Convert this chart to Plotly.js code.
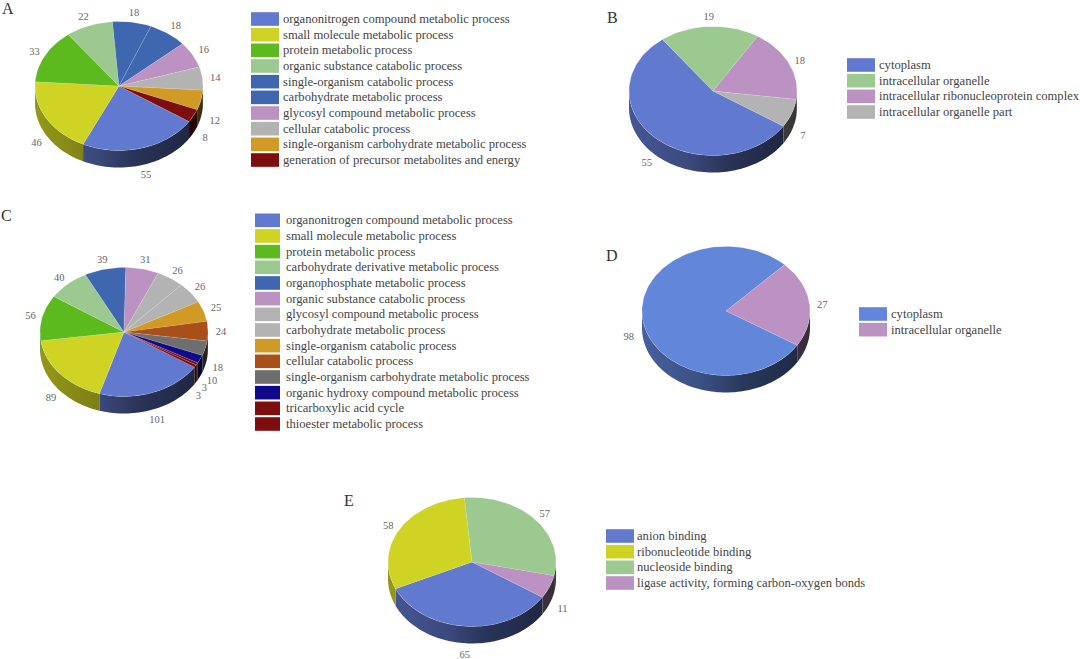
<!DOCTYPE html>
<html>
<head>
<meta charset="utf-8">
<script src="https://cdn.plot.ly/plotly-3.0.1.min.js"></script>
<style>html,body{margin:0;padding:0;background:#fff}#chart{width:1080px;height:659px}</style>
</head>
<body>
<div id="chart"></div>
<script>
// ---------- data ----------
const categoriesA = ["organonitrogen compound metabolic process","small molecule metabolic process","protein metabolic process","organic substance catabolic process","single-organism catabolic process","carbohydrate metabolic process","glycosyl compound metabolic process","cellular catabolic process","single-organism carbohydrate metabolic process","generation of precursor metabolites and energy"];
const valuesA = [55,46,33,22,18,18,16,14,12,8];
const categoriesB = ["cytoplasm","intracellular organelle","intracellular ribonucleoprotein complex","intracellular organelle part"];
const valuesB = [55,19,18,7];
const categoriesC = ["organonitrogen compound metabolic process","small molecule metabolic process","protein metabolic process","carbohydrate derivative metabolic process","organophosphate metabolic process","organic substance catabolic process","glycosyl compound metabolic process","carbohydrate metabolic process","single-organism catabolic process","cellular catabolic process","single-organism carbohydrate metabolic process","organic hydroxy compound metabolic process","tricarboxylic acid cycle","thioester metabolic process"];
const valuesC = [101,89,56,40,39,31,26,26,25,24,18,10,3,3];
const categoriesD = ["cytoplasm","intracellular organelle"];
const valuesD = [98,27];
const categoriesE = ["anion binding","ribonucleotide binding","nucleoside binding","ligase activity, forming carbon-oxygen bonds"];
const valuesE = [65,58,57,11];

// ---------- styles ----------
const BLUE="#6279d0", SKY="#6286da", YEL="#cfd323", GRN="#5cb91e", LGR="#9cc98f", DBL="#3f67b0", PUR="#bc92c2", GRY="#b3b3b3", ORG="#d09a24", RED="#7e0d0d", BRN="#a94f19", DGY="#6e6e6e", NAV="#0f0a8c";
const coloursA=[BLUE,YEL,GRN,LGR,DBL,DBL,PUR,GRY,ORG,RED];
const coloursB=[BLUE,LGR,PUR,GRY];
const coloursC=[BLUE,YEL,GRN,LGR,DBL,PUR,GRY,GRY,ORG,BRN,DGY,NAV,RED,RED];
const coloursD=[SKY,PUR];
const coloursE=[BLUE,YEL,LGR,PUR];

// ---------- layout of the five panels (pixels) ----------
const W=1080,H=659,SERIF='"Liberation Serif","Times New Roman",serif';
const panels=[
 {tag:"A",cats:categoriesA,vals:valuesA,cols:coloursA,cx:119,cy:86,box:[0,240,0,190],start:33.5,tagAt:[8,9],sw:[251,279],textX:283,rowY:19,
  nudge:[[1,0],[1,10],[1,2],[-1,2],[0,2],[0,2],[0,1],[0,1],[1,15],[0,10]]},
 {tag:"B",cats:categoriesB,vals:valuesB,cols:coloursB,cx:713,cy:91,box:[600,835,0,190],start:33,tagAt:[612,18],sw:[847,875],textX:879,rowY:65,
  nudge:[[0,5],[0,2],[-1,2],[-1,13]]},
 {tag:"C",cats:categoriesC,vals:valuesC,cols:coloursC,cx:124,cy:332,box:[0,245,205,440],start:33,tagAt:[6,215],sw:[255,280],textX:286,rowY:220.3,
  nudge:[[0,1],[1,7],[1,1],[0,3],[0,2],[0,2],[0,2],[-1,1],[0,1],[0,1],[0,12.5],[0,10],[-4,11],[-8,15]]},
 {tag:"D",cats:categoriesD,vals:valuesD,cols:coloursD,cx:726,cy:311,box:[600,845,235,405],start:32,tagAt:[612,255],sw:[859,887],textX:891,rowY:314,
  nudge:[[-1,15],[0,3]]},
 {tag:"E",cats:categoriesE,vals:valuesE,cols:coloursE,cx:472,cy:562,box:[365,590,488,659],start:33,tagAt:[349,500],sw:[606,634],textX:637,rowY:536,
  nudge:[[0,1],[0,2],[0,2],[1,12]]}
];
const RX=84,RY=64.5,DEPTH=17,PITCH=15.67;

function shade(hex,f){
  const n=parseInt(hex.slice(1),16);
  return `rgb(${Math.round((n>>16&255)*f)},${Math.round((n>>8&255)*f)},${Math.round((n&255)*f)})`;
}
function arc(a0,a1){
  const steps=Math.max(2,Math.ceil((a1-a0)/2)),p=[];
  for(let i=0;i<=steps;i++){const t=(a0+(a1-a0)*i/steps)*Math.PI/180;p.push([Math.cos(t),-Math.sin(t)]);}
  return p;
}

const data=[],shapes=[],annotations=[],layout={};
panels.forEach((p,k)=>{
  const s=k?String(k+1):"";
  const xa="x"+s,ya="y"+s,[x0,x1,y0,y1]=p.box;
  layout["xaxis"+s]={visible:false,fixedrange:true,anchor:ya,domain:[x0/W,x1/W],range:[(x0-p.cx)/RX,(x1-p.cx)/RX]};
  layout["yaxis"+s]={visible:false,fixedrange:true,anchor:xa,domain:[1-y1/H,1-y0/H],range:[(p.cy-y1)/RY,(p.cy-y0)/RY]};
  const total=p.vals.reduce((a,b)=>a+b,0),d=DEPTH/RY;
  let a=p.start;
  const spans=p.vals.map(v=>{const sp=[a,a+v/total*360];a=sp[1];return sp;});
  // sides
  spans.forEach(([a0,a1],i)=>{
    [[0,180],[360,540]].forEach(([lo,hi])=>{
      const b0=Math.max(a0,lo),b1=Math.min(a1,hi);
      if(b1<=b0)return;
      const top=arc(b0,b1),xs=top.map(q=>q[0]),ys=top.map(q=>q[1]);
      const bx=xs.slice().reverse(),by=ys.slice().reverse().map(y=>y-d);
      const c=p.cols[i];
      data.push({type:"scatter",mode:"none",xaxis:xa,yaxis:ya,hoverinfo:"skip",showlegend:false,
        x:xs.concat(bx,[xs[0]]),y:ys.concat(by,[ys[0]]),fill:"toself",
        fillgradient:{type:"horizontal",start:-1,stop:1,colorscale:[[0,shade(c,.72)],[.35,shade(c,.6)],[.6,shade(c,.42)],[1,shade(c,.3)]]}});
    });
  });
  // top faces
  spans.forEach(([a0,a1],i)=>{
    const q=arc(a0,a1);
    data.push({type:"scatter",mode:"lines",xaxis:xa,yaxis:ya,name:p.cats[i],showlegend:false,hoverinfo:"name",
      x:[0].concat(q.map(r=>r[0]),[0]),y:[0].concat(q.map(r=>r[1]),[0]),
      fill:"toself",fillcolor:p.cols[i],line:{color:"rgba(255,255,255,0.2)",width:0.6}});
  });
  // value labels
  const lx=[],ly=[];
  spans.forEach(([a0,a1],i)=>{
    const t=(a0+a1)/2*Math.PI/180,c=Math.cos(t),sn=Math.sin(t),n=p.nudge[i]||[0,0];
    lx.push((RX+13)*c/RX+n[0]/RX);
    ly.push(-(RY+11)*sn/RY-(sn>0?d*sn:0)-n[1]/RY);
  });
  data.push({type:"scatter",mode:"text",xaxis:xa,yaxis:ya,x:lx,y:ly,text:p.vals.map(String),textposition:"middle center",cliponaxis:false,hoverinfo:"skip",showlegend:false,
    textfont:{family:SERIF,size:10.5,color:"#666"}});
  // panel letter
  annotations.push({xref:"paper",yref:"paper",x:p.tagAt[0]/W,y:1-p.tagAt[1]/H,text:p.tag,showarrow:false,xanchor:"center",yanchor:"middle",font:{family:SERIF,size:16,color:"#333"}});
  // legend rows
  p.cats.forEach((t,i)=>{
    const yc=p.rowY+i*PITCH;
    shapes.push({type:"rect",xref:"paper",yref:"paper",x0:p.sw[0]/W,x1:p.sw[1]/W,y0:1-(yc-6.8)/H,y1:1-(yc+6.8)/H,fillcolor:p.cols[i],line:{width:0}});
    annotations.push({xref:"paper",yref:"paper",x:p.textX/W,y:1-yc/H,text:t,showarrow:false,xanchor:"left",yanchor:"middle",xshift:-2,font:{family:SERIF,size:12.6,color:"#444"}});
  });
});
Object.assign(layout,{width:W,height:H,margin:{l:0,r:0,t:0,b:0},paper_bgcolor:"#fff",plot_bgcolor:"rgba(0,0,0,0)",showlegend:false,shapes,annotations,hovermode:"closest"});
Plotly.newPlot("chart",data,layout,{displayModeBar:false});
</script>
</body>
</html>
